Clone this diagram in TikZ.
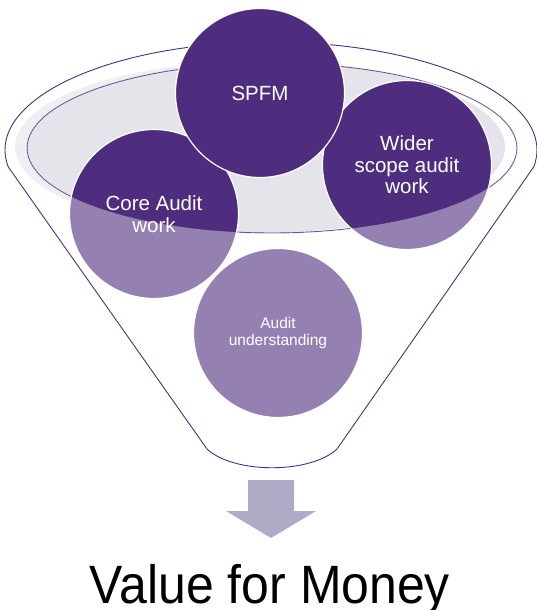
\documentclass[tikz,border=0pt]{standalone}
\usepackage{fontspec}
\usepackage{graphicx}
\setmainfont{Liberation Sans}

\definecolor{funnelpurple}{RGB}{79,45,126}
\definecolor{rimgray}{RGB}{229,228,234}
\definecolor{arrowlilac}{RGB}{178,171,199}

\tikzset{every picture/.style={line width=0.75pt}}
\tikzset{
  ball/.style={circle, fill=funnelpurple, draw=white, line width=1.2pt,
    minimum size=169pt, inner sep=0pt, text=white, align=center,
    font=\fontsize{20.5}{21.5}\selectfont},
  smallball/.style={ball, font=\fontsize{15.5}{17.5}\selectfont},
  rimline/.style={draw=funnelpurple, line width=0.9pt}
}

\begin{document}
\begin{tikzpicture}[x=1pt,y=1pt,yscale=-1,xscale=1]
\useasboundingbox (0,0) rectangle (536,610);

%Shape: Ellipse (inside of the rim)
\fill[rimgray] (260,147) ellipse [x radius=245, y radius=86];
%Shape: Ellipse (rim line)
\draw[rimline] (272,148) ellipse [x radius=245, y radius=85];

%Shape: Circle
\node[ball] (core) at (154,214) {Core Audit\\work};
%Shape: Circle
\node[ball] (wider) at (407,165) {Wider\\scope audit\\work};
%Shape: Circle
\node[smallball] (understand) at (278,333) {Audit\\understanding};

%Shape: Funnel (front, see-through)
\fill[white, fill opacity=0.4, even odd rule]
  (8.32,167) arc [start angle=170.94, end angle=369.06, x radius=266, y radius=108]
  -- (337,449) .. controls (310,474) and (234,474) .. (207,449) -- cycle
  (272,148) ellipse [x radius=245, y radius=85];
%Shape: Funnel (outline)
\draw[rimline]
  (8.32,167) arc [start angle=170.94, end angle=369.06, x radius=266, y radius=108]
  -- (337,449) .. controls (310,474) and (234,474) .. (207,449) -- cycle;

%Shape: Circle
\node[ball] (spfm) at (260,93) {SPFM};

%Shape: Down Arrow
\fill[arrowlilac] (248,480) -- (294,480) -- (294,511) -- (316,511) -- (271,538)
  -- (226,511) -- (248,511) -- cycle;

% Text Node
\node[anchor=base, inner sep=0pt] (vfm) at (270,603)
  {\fontsize{54}{58}\selectfont\scalebox{0.925}[1]{Value for Money}};

\end{tikzpicture}
\end{document}
